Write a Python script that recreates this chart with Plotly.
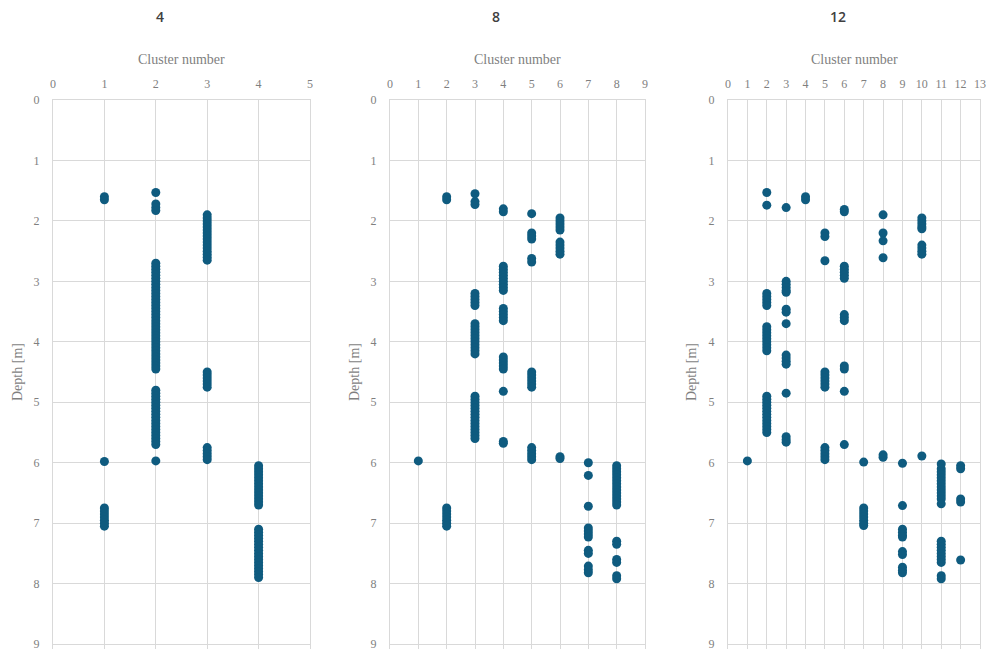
import plotly.graph_objects as go

# ---------------- data: depth [m] of samples in each cluster ----------------
# k = 4
K4_C1 = [1.6, 1.65, 5.98, 6.75, 6.8, 6.85, 6.9, 6.95, 7.0, 7.05]
K4_C2 = [1.53, 1.72, 1.78, 1.83,
         2.7, 2.75, 2.8, 2.85, 2.9, 2.95, 3.0, 3.05, 3.1, 3.15, 3.2, 3.25, 3.3, 3.35, 3.4,
         3.45, 3.5, 3.55, 3.6, 3.65, 3.7, 3.75, 3.8, 3.85, 3.9, 3.95, 4.0, 4.05, 4.1, 4.15,
         4.2, 4.25, 4.3, 4.35, 4.4, 4.45,
         4.8, 4.85, 4.9, 4.95, 5.0, 5.05, 5.1, 5.15, 5.2, 5.25, 5.3, 5.35, 5.4, 5.45, 5.5,
         5.55, 5.6, 5.65, 5.7, 5.97]
K4_C3 = [1.9, 1.95, 2.0, 2.05, 2.1, 2.15, 2.2, 2.25, 2.3, 2.35, 2.4, 2.45, 2.5, 2.55, 2.6, 2.65,
         4.5, 4.55, 4.6, 4.65, 4.7, 4.75,
         5.75, 5.8, 5.85, 5.9, 5.95]
K4_C4 = [6.05, 6.1, 6.15, 6.2, 6.25, 6.3, 6.35, 6.4, 6.45, 6.5, 6.55, 6.6, 6.65, 6.7,
         7.1, 7.15, 7.2, 7.25, 7.3, 7.35, 7.4, 7.45, 7.5, 7.55, 7.6, 7.65, 7.7, 7.75, 7.8,
         7.85, 7.9]

# k = 8
K8_C1 = [5.97]
K8_C2 = [1.6, 1.65, 6.75, 6.8, 6.85, 6.9, 6.95, 7.0, 7.05]
K8_C3 = [1.55, 1.68, 1.73,
         3.2, 3.25, 3.3, 3.35, 3.4,
         3.7, 3.75, 3.8, 3.85, 3.9, 3.95, 4.0, 4.05, 4.1, 4.15, 4.2,
         4.9, 4.95, 5.0, 5.05, 5.1, 5.15, 5.2, 5.25, 5.3, 5.35, 5.4, 5.45, 5.5, 5.55, 5.6]
K8_C4 = [1.8, 1.85, 2.75, 2.8, 2.85, 2.9, 2.95, 3.0, 3.05, 3.1, 3.15,
         3.45, 3.5, 3.55, 3.6, 3.65, 4.25, 4.3, 4.35, 4.4, 4.45, 4.82, 5.65, 5.68]
K8_C5 = [1.88, 2.2, 2.25, 2.3, 2.62, 2.68,
         4.5, 4.55, 4.6, 4.65, 4.7, 4.75, 5.75, 5.8, 5.85, 5.9, 5.95]
K8_C6 = [1.95, 2.0, 2.05, 2.1, 2.15, 2.35, 2.4, 2.45, 2.5, 2.55, 5.9, 5.93]
K8_C7 = [6.0, 6.21, 6.72, 7.08, 7.13, 7.18, 7.23, 7.45, 7.5, 7.71, 7.77, 7.82]
K8_C8 = [6.05, 6.1, 6.15, 6.2, 6.25, 6.3, 6.35, 6.4, 6.45, 6.5, 6.55, 6.6, 6.65, 6.7,
         7.3, 7.35, 7.6, 7.65, 7.87, 7.92]

# k = 12
K12_C1 = [5.97]
K12_C2 = [1.53, 1.74, 3.2, 3.25, 3.3, 3.35, 3.4,
          3.75, 3.8, 3.85, 3.9, 3.95, 4.0, 4.05, 4.1, 4.15,
          4.9, 4.95, 5.0, 5.05, 5.1, 5.15, 5.2, 5.25, 5.3, 5.35, 5.4, 5.45, 5.5]
K12_C3 = [1.78, 3.0, 3.05, 3.1, 3.15, 3.18, 3.46, 3.51, 3.7,
          4.22, 4.27, 4.32, 4.37, 4.85, 5.57, 5.62, 5.66]
K12_C4 = [1.6, 1.65]
K12_C5 = [2.2, 2.26, 2.66, 4.5, 4.55, 4.6, 4.65, 4.7, 4.75, 5.75, 5.8, 5.85, 5.9, 5.95]
K12_C6 = [1.81, 1.85, 2.75, 2.8, 2.85, 2.9, 2.95, 3.55, 3.6, 3.65, 4.4, 4.45, 4.82, 5.7]
K12_C7 = [5.99, 6.75, 6.8, 6.85, 6.9, 6.95, 7.0, 7.04]
K12_C8 = [1.9, 2.2, 2.33, 2.61, 5.87, 5.91]
K12_C9 = [6.01, 6.71, 7.1, 7.15, 7.2, 7.23, 7.47, 7.52, 7.73, 7.78, 7.82]
K12_C10 = [1.95, 2.0, 2.05, 2.1, 2.13, 2.4, 2.45, 2.5, 2.55, 5.89]
K12_C11 = [6.02, 6.1, 6.15, 6.2, 6.25, 6.3, 6.35, 6.4, 6.45, 6.5, 6.55, 6.6, 6.68,
           7.3, 7.35, 7.4, 7.45, 7.5, 7.55, 7.6, 7.65, 7.87, 7.92]
K12_C12 = [6.05, 6.1, 6.6, 6.65, 7.61]

PANELS = [
    ("4", 5, [K4_C1, K4_C2, K4_C3, K4_C4]),
    ("8", 9, [K8_C1, K8_C2, K8_C3, K8_C4, K8_C5, K8_C6, K8_C7, K8_C8]),
    ("12", 13, [K12_C1, K12_C2, K12_C3, K12_C4, K12_C5, K12_C6, K12_C7, K12_C8,
                K12_C9, K12_C10, K12_C11, K12_C12]),
]
DEPTH_TICKS = list(range(0, 10))

# ---------------- layout ----------------
W, H = 990, 649
X_DOMAINS = [(53, 310), (390, 645), (728, 980)]  # px
Y_TOP = 100          # px of depth 0
PX_PER_M = 60.45     # vertical scale
Y_MAX = (H - Y_TOP) / PX_PER_M   # plot runs to the bottom edge, a little past 9
TITLE_X = [160, 496, 838]
DEPTH_LABEL_X = [18, 355, 692]

MARKER = "#0f5b7f"
GRID = "#d9d9d9"
TICK_FONT = dict(family="Liberation Serif", size=12, color="#7f7f7f")

fig = go.Figure()
annotations = []

for i, (title, xmax, clusters) in enumerate(PANELS):
    n = i + 1
    xa = "x" if n == 1 else f"x{n}"
    ya = "y" if n == 1 else f"y{n}"
    xs, ys = [], []
    for c, depths in enumerate(clusters, start=1):
        xs += [c] * len(depths)
        ys += depths
    fig.add_trace(go.Scatter(
        x=xs, y=ys, mode="markers", xaxis=xa, yaxis=ya, showlegend=False,
        hoverinfo="skip",
        marker=dict(color=MARKER, size=9, line=dict(width=0)),
    ))
    x0, x1 = X_DOMAINS[i]
    fig.update_layout(**{
        ("xaxis" if n == 1 else f"xaxis{n}"): dict(
            domain=[x0 / W, x1 / W], anchor=ya, side="top", automargin=False,
            range=[0, xmax], tickmode="array", tickvals=list(range(0, xmax + 1)),
            showgrid=True, gridcolor=GRID, gridwidth=1, zeroline=False,
            showline=True, linecolor=GRID, mirror=True,
            ticks="", ticklabelstandoff=6, tickfont=TICK_FONT, fixedrange=True,
            ticklabeloverflow="allow",
        ),
        ("yaxis" if n == 1 else f"yaxis{n}"): dict(
            domain=[0, 1 - Y_TOP / H], anchor=xa, automargin=False,
            range=[Y_MAX, 0], tickmode="array", tickvals=DEPTH_TICKS,
            showgrid=True, gridcolor=GRID, gridwidth=1, zeroline=False,
            showline=True, linecolor=GRID, mirror=True,
            ticks="", ticklabelstandoff=10, tickfont=TICK_FONT, fixedrange=True,
            ticklabeloverflow="allow",
        ),
    })
    annotations.append(dict(
        text=title, x=TITLE_X[i] / W, y=1 - 17 / H, xref="paper", yref="paper",
        showarrow=False, xanchor="center", yanchor="middle",
        font=dict(family="Open Sans", size=14, color="#404040", weight=600),
    ))
    annotations.append(dict(
        text="Cluster number", x=(x0 + x1) / 2 / W, y=1 - 60 / H,
        xref="paper", yref="paper", showarrow=False, xanchor="center", yanchor="middle",
        font=dict(family="Liberation Serif", size=14, color="#7f7f7f"),
    ))
    annotations.append(dict(
        text="Depth [m]", x=DEPTH_LABEL_X[i] / W, y=1 - ((Y_TOP + 644) / 2) / H,
        xref="paper", yref="paper", showarrow=False, xanchor="center", yanchor="middle",
        textangle=-90,
        font=dict(family="Liberation Serif", size=14, color="#7f7f7f"),
    ))

fig.update_layout(
    template="none",
    width=W, height=H, margin=dict(l=0, r=0, t=0, b=0, autoexpand=False),
    paper_bgcolor="white", plot_bgcolor="white",
    annotations=annotations, hovermode=False,
)

fig.write_html(
    "out.html",
    config={"displayModeBar": False, "staticPlot": True},
    post_script="document.body.style.margin='0';document.body.style.overflow='hidden';",
)
